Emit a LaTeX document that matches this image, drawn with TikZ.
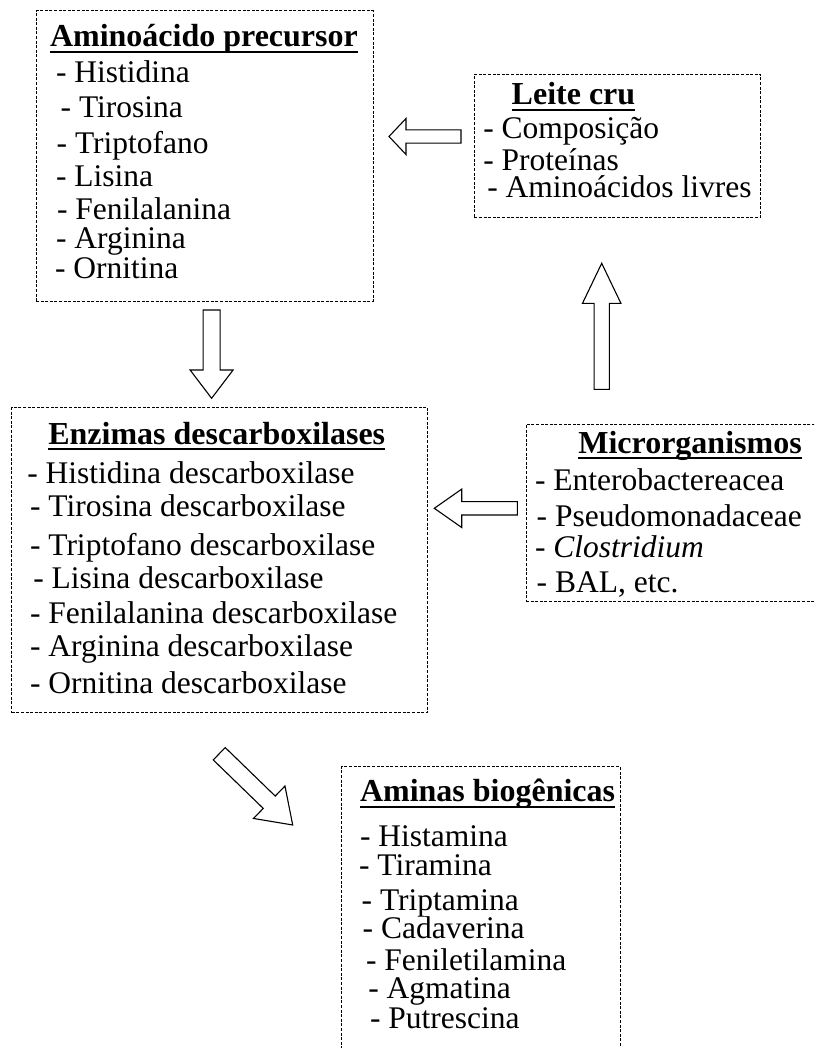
\documentclass[tikz,border=0pt]{standalone}
\usepackage{fontspec}
\setmainfont{Liberation Serif}
\usetikzlibrary{calc}
\tikzset{
  boxed/.style={draw=black, line width=1pt, dash pattern=on 3pt off 1.6pt, rectangle, inner sep=0pt, outer sep=0pt, anchor=north west},
  lbl/.style={anchor=base west, inner sep=0pt, outer sep=0pt, font=\fontsize{31.5}{36}\selectfont},
  ttl/.style={lbl, font=\fontsize{32}{38}\selectfont\bfseries},
  uline/.style={line width=2.3pt, black},
  blockline/.style={draw=black, line width=1.1pt, fill=white, line join=miter}
}
\newcommand\blockarrow[5]{%
  \path (#1); \pgfgetlastxy{\bax}{\bay}%
  \path (#2); \pgfgetlastxy{\bbx}{\bby}%
  \pgfmathsetmacro\barang{atan2(\bby-\bay,\bbx-\bax)}%
  \pgfmathsetmacro\barlen{veclen(\bbx-\bax,\bby-\bay)}%
  \draw[blockline, shift={(\bbx,\bby)}, rotate=\barang]
    (0pt,0pt) -- (-#5pt,#4pt) -- (-#5pt,#3pt) -- (-\barlen pt,#3pt)
    -- (-\barlen pt,-#3pt) -- (-#5pt,-#3pt) -- (-#5pt,-#4pt) -- cycle;%
}
\begin{document}
\begin{tikzpicture}[x=1pt,y=-1pt]
\useasboundingbox (0,0) rectangle (814,1048);
\clip (0,0) rectangle (814,1048);
\fill[white] (0,0) rectangle (814,1048);

% boxes
\node[boxed, minimum width=337pt, minimum height=290pt] (b1) at (36,11) {};
\node[boxed, minimum width=286.4pt, minimum height=143pt] (b2) at (474.3,74.3) {};
\node[boxed, minimum width=415.6pt, minimum height=305.4pt] (b3) at (11.7,407.3) {};
\node[boxed, minimum width=304pt, minimum height=177.7pt] (b4) at (526,424) {};
\node[boxed, minimum width=278.3pt, minimum height=300pt] (b5) at (341.7,766.7) {};

% Aminoacido precursor
\node[ttl] (t1) at (50,47) {Aminoácido precursor};
\draw[uline] ([yshift=-5pt]t1.base west) -- ([yshift=-5pt]t1.base east);
\node[lbl] (a1) at (56,82.8) {- Histidina};
\node[lbl] (a2) at (60.7,117.5) {- Tirosina};
\node[lbl] (a3) at (56.7,153.3) {- Triptofano};
\node[lbl] (a4) at (56,187) {- Lisina};
\node[lbl] (a5) at (57,220) {- Fenilalanina};
\node[lbl] (a6) at (56,248.3) {- Arginina};
\node[lbl] (a7) at (55,279) {- Ornitina};

% Leite cru
\node[ttl] (t2) at (511.7,105) {Leite cru};
\draw[uline] ([yshift=-5pt]t2.base west) -- ([yshift=-5pt]t2.base east);
\node[lbl] (l1) at (483.3,138.3) {- Composição};
\node[lbl] (l2) at (483.3,171) {- Proteínas};
\node[lbl] (l3) at (487.3,197.3) {- Aminoácidos livres};

% Enzimas
\node[ttl] (t3) at (48.3,444) {Enzimas descarboxilases};
\draw[uline] ([yshift=-5pt]t3.base west) -- ([yshift=-5pt]t3.base east);
\node[lbl] (e1) at (27.3,483.3) {- Histidina descarboxilase};
\node[lbl] (e2) at (30,516.7) {- Tirosina descarboxilase};
\node[lbl] (e3) at (30,555) {- Triptofano descarboxilase};
\node[lbl] (e4) at (33.3,588.3) {- Lisina descarboxilase};
\node[lbl] (e5) at (30,623.3) {- Fenilalanina descarboxilase};
\node[lbl] (e6) at (30,656.7) {- Arginina descarboxilase};
\node[lbl] (e7) at (30,693.3) {- Ornitina descarboxilase};

% Microrganismos
\node[ttl] (t4) at (578.3,453.3) {Microrganismos};
\draw[uline] ([yshift=-5pt]t4.base west) -- ([yshift=-5pt]t4.base east);
\node[lbl] (m1) at (535,490.7) {- Enterobactereacea};
\node[lbl] (m2) at (536.7,526.7) {- Pseudomonadaceae};
\node[lbl] (m3) at (535,557.3) {- \textit{Clostridium}};
\node[lbl] (m4) at (536.7,592.7) {- BAL, etc.};

% Aminas biogenicas
\node[ttl] (t5) at (360,801.7) {Aminas biogênicas};
\draw[uline] ([yshift=-5pt]t5.base west) -- ([yshift=-5pt]t5.base east);
\node[lbl] (p1) at (360,846.7) {- Histamina};
\node[lbl] (p2) at (359,875) {- Tiramina};
\node[lbl] (p3) at (361.7,910) {- Triptamina};
\node[lbl] (p4) at (362.7,938.3) {- Cadaverina};
\node[lbl] (p5) at (366,970) {- Feniletilamina};
\node[lbl] (p6) at (368.3,998.3) {- Agmatina};
\node[lbl] (p7) at (370,1028.3) {- Putrescina};

% arrow end points
\coordinate (lcTail) at (461,136.5);
\coordinate (lcTip) at (389,136.5);
\coordinate (mlTail) at (601.7,389.3);
\coordinate (mlTip) at (601.7,263.3);
\coordinate (aeTail) at (211.6,310);
\coordinate (aeTip) at (211.6,398.3);
\coordinate (meTail) at (517.3,508.3);
\coordinate (meTip) at (434.3,508.3);
\coordinate (ebTail) at (219.2,753.7);
\coordinate (ebTip) at (292.7,825);

\blockarrow{lcTail}{lcTip}{6.65}{18}{17}
\blockarrow{mlTail}{mlTip}{7.65}{19.2}{40}
\blockarrow{aeTail}{aeTip}{8.5}{21.5}{28.3}
\blockarrow{meTail}{meTip}{6.65}{19.2}{27.4}
\blockarrow{ebTail}{ebTip}{8.6}{22.6}{32.7}
\end{tikzpicture}
\end{document}
